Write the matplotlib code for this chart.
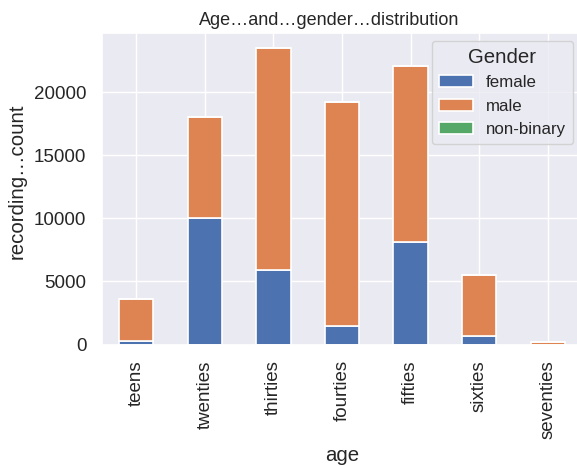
import matplotlib
matplotlib.use("Agg")
import matplotlib.pyplot as plt
import seaborn as sns
import numpy as np

ages = ["teens", "twenties", "thirties", "fourties", "fifties", "sixties", "seventies"]
female = [300, 10000, 5900, 1450, 8150, 650, 0]
male = [3300, 8000, 17600, 17800, 13900, 4850, 200]
non_binary = [0, 10, 15, 10, 10, 5, 0]

sns.set_theme()
plt.rcParams['font.family'] = ['Liberation Sans', 'DejaVu Sans']

fig = plt.figure(figsize=(5.77, 4.65), dpi=100)
# axes runs a little past the right edge, as in the reference
ax = fig.add_axes([102 / 577, 120.5 / 465, 480 / 577, 311.5 / 465])

x = np.arange(len(ages))
bottom = np.zeros(len(ages))
colors = sns.color_palette()
for vals, label, c in zip([female, male, non_binary], ["female", "male", "non-binary"], colors):
    ax.bar(x, vals, width=0.5, bottom=bottom, color=c, edgecolor="white", linewidth=1.2, label=label)
    bottom += np.array(vals)

ax.set_xticks(x)
ax.set_xticklabels(ages, rotation=90)
ax.tick_params(labelsize=13.5, length=0, pad=11.3)
ax.set_xlim(-0.5, 6.5)
ax.set_ylim(0, bottom.max() * 1.05)
ax.set_xlabel("age", fontsize=14.7, labelpad=5)
ax.set_ylabel("recording…count", fontsize=14.7)
ax.yaxis.set_label_coords(-0.157, (465 - 181.5 - 120.5) / 311.5)
ax.set_title("Age…and…gender…distribution", fontsize=13, x=(329.5 - 102) / 480)
ax.legend(title="Gender", loc="upper right", fontsize=12.2, title_fontsize=14.7,
          bbox_to_anchor=(573 / 577, 424 / 465), bbox_transform=fig.transFigure,
          borderaxespad=0)

fig.savefig("out.png", dpi=100)
